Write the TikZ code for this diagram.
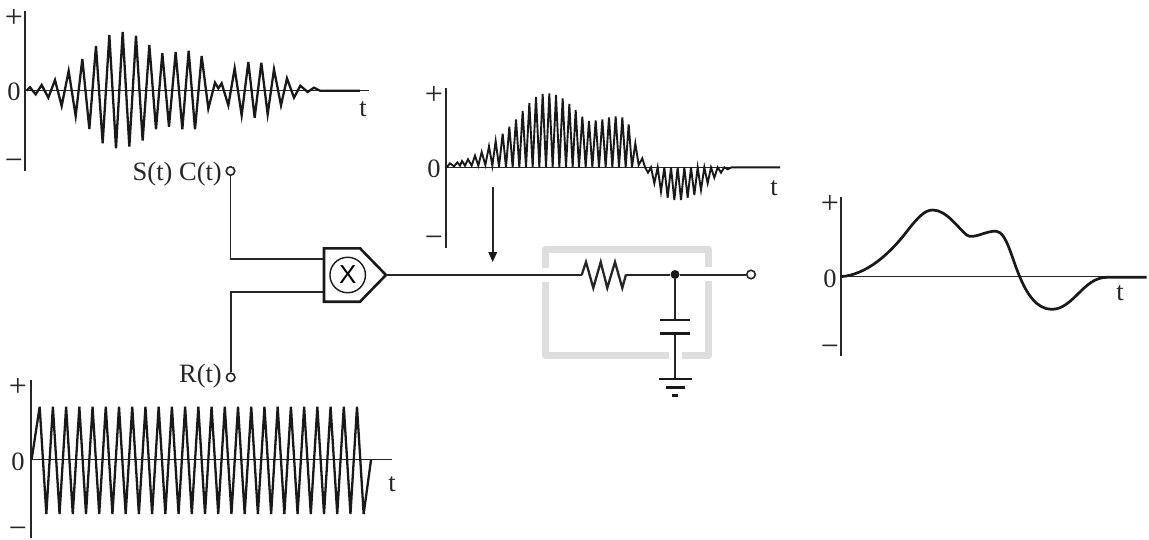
\documentclass[tikz,border=0pt]{standalone}
\usepackage{fontspec}
\setmainfont{Liberation Serif}
\newfontfamily\sanslabel{Liberation Sans}
\begin{document}
\begin{tikzpicture}[x=1pt,y=-1pt,
  wave/.style={line width=2.3pt,line join=miter,miter limit=8,color=black!90},
  axis/.style={line width=1.8pt,color=black!85},
  base/.style={line width=1.6pt,color=black!85},
  wire/.style={line width=1.8pt,color=black!85},
  plate/.style={line width=2.4pt,color=black!90},
  lab/.style={inner sep=0pt,font=\fontsize{26.5}{30}\selectfont,color=black!85},
  sgn/.style={inner sep=0pt,font=\fontsize{32}{34}\selectfont,color=black!85},
  pin/.style={circle,draw=black!85,fill=white,line width=1.6pt,minimum size=8.5pt,inner sep=0pt},
  dotn/.style={circle,fill=black!90,minimum size=9pt,inner sep=0pt},
  zoomed/.style={x=0.33333pt,y=-0.33333pt}]
\useasboundingbox (0,0) rectangle (1149,539);
% shielding box
\begin{scope}[line width=7.2pt,color=black!13,line cap=butt,line join=round]
\draw (545.7,268.3) -- (545.7,249.3) -- (708.7,249.3) -- (708.7,267.3);
\draw (708.7,281) -- (708.7,355.7) -- (682,355.7);
\draw (669,355.7) -- (545.7,355.7) -- (545.7,282.3);
\end{scope}
% waveform 1
\begin{scope}[shift={(0,0)},zoomed]
\draw[axis] (75,32) -- (75,512);
\draw[base] (75,272) -- (1108,272);
\draw[wave] (80,272)--(90,262)--(107,283)--(125,255)--(145,293)--(165,240)--(185,318)--(206,213)--(227,348)--(247,177)--(268,387)--(288,138)--(308,430)--(328,105)--(348,445)--(368,96)--(388,440)--(408,107)--(428,422)--(448,135)--(468,388)--(487,160)--(507,380)--(527,156)--(547,388)--(566,152)--(585,388)--(605,168)--(625,326)--(645,248)--(655,265)--(665,250)--(685,316)--(704,205)--(725,346)--(745,186)--(764,353)--(784,188)--(803,343)--(822,208)--(843,316)--(861,235)--(882,293)--(901,257)--(923,276)--(942,263)--(960,272)--(1080,272);
\end{scope}
\node[sgn] (pa) at (14,18) {+};
\node[sgn] (ma) at (14,165) {−};
\node[lab] (za) at (14,92) {0};
\node[lab] (ta) at (363,109) {t};
% waveform 2
\begin{scope}[shift={(410,75)},zoomed]
\draw[axis] (107,38) -- (107,518);
\draw[base] (107,277) -- (1110,277);
\draw[wave,line width=1.9pt] (110,277)--(120,265)--(132,274)--(142,262)--(150,272)--(156,258)--(165,272)--(174,253)--(185,272)--(195,242)--(205,272)--(215,231)--(226,270)--(237,214)--(247,272)--(257,198)--(267,275)--(278,176)--(288,277)--(298,155)--(308,277)--(318,133)--(328,277)--(338,108)--(348,277)--(358,84)--(368,277)--(378,66)--(388,277)--(398,57)--(408,277)--(418,55)--(428,277)--(438,60)--(448,277)--(458,70)--(468,277)--(478,87)--(488,277)--(497,105)--(507,277)--(517,125)--(527,277)--(537,138)--(547,277)--(557,136)--(567,277)--(577,133)--(587,277)--(597,127)--(607,277)--(617,124)--(627,277)--(637,127)--(647,277)--(656,148)--(666,277)--(676,205)--(686,270)--(697,250)--(705,277)--(714,293)--(723,277)--(733,325)--(743,277)--(753,350)--(763,277)--(773,368)--(783,277)--(793,375)--(803,277)--(813,375)--(823,277)--(833,368)--(843,277)--(853,360)--(863,277)--(873,345)--(883,277)--(893,325)--(903,277)--(913,308)--(923,277)--(933,293)--(943,277)--(953,283)--(965,277)--(1110,277);
\end{scope}
\node[sgn] (pb) at (434,95) {+};
\node[sgn] (mb) at (434,242) {−};
\node[lab] (zb) at (434,169) {0};
\node[lab] (tb) at (774,188) {t};
% waveform 3
\begin{scope}[shift={(0,360)},zoomed]
\draw[axis] (92,60) -- (92,535);
\draw[base] (92,298) -- (1175,298);
\draw[wave] (95,298)
  \foreach \k in {0,...,23} { -- ({119+39.67*\k},140) -- ({139+39.67*\k},462) }
  -- (1071,140) -- (1091,462) -- (1113,300);
\end{scope}
\node[sgn] (pc) at (18,387) {+};
\node[sgn] (mc) at (18,533) {−};
\node[lab] (zc) at (18,462) {0};
\node[lab] (tc) at (392,484) {t};
% waveform 4
\begin{scope}[shift={(810,190)},zoomed]
\draw[axis] (92,20) -- (92,498);
\draw[base] (92,260) -- (900,260);
\draw[line width=2.7pt,color=black!90] (92,260) .. controls (170,255) and (240,190) .. (290,125) .. controls (325,80) and (345,60) .. (368,60) .. controls (410,60) and (445,115) .. (470,135) .. controls (490,150) and (530,120) .. (560,124) .. controls (590,128) and (605,205) .. (630,262) .. controls (650,310) and (680,358) .. (725,358) .. controls (790,358) and (820,262) .. (890,262) -- (1010,262);
\end{scope}
\node[sgn] (pd) at (830,204) {+};
\node[sgn] (md) at (830,351) {−};
\node[lab] (zd) at (830,279) {0};
\node[lab] (td) at (1120,293) {t};
% inputs
\node[pin] (s) at (230.5,171) {};
\node[pin] (r) at (230.7,377.3) {};
\node[lab,anchor=east] (slab) at (222,174) {S(t) C(t)};
\node[lab,anchor=east] (rlab) at (222,376) {R(t)};
% multiplier
\draw[line width=2.6pt,color=black!90,fill=white,line join=miter] (324,248.3) coordinate (mnw) -- (360,248.3) -- (386,275) coordinate (mtip) -- (360,301.7) -- (324,301.7) coordinate (msw) -- cycle;
\coordinate (ma1) at (322.5,259.3);
\coordinate (ma2) at (323,291.7);
\node[circle,draw=black!90,line width=1.4pt,minimum size=35.5pt,inner sep=0pt,font=\sanslabel\fontsize{26}{28}\selectfont] (mx) at (347.7,275) {X};
\draw[wire] (s) -- (s |- ma1) -- (ma1);
\draw[wire] (r) -- (r |- ma2) -- (ma2);
% filter
\coordinate (ra) at (581.7,275);
\coordinate (rb) at (626,274.5);
\node[dotn] (d) at (675,274.5) {};
\node[pin] (o) at (751,274.5) {};
\draw[wire] (mtip) -- (ra);
\draw[wire,line width=2.3pt,line join=miter] (ra) -- (586,262) -- (593.3,288) -- (600.7,262) -- (607.3,288) -- (615,262) -- (622.3,288) -- (rb);
\draw[wire,line width=2pt] (rb) -- (d) -- (o);
\coordinate (c1) at (675,320);
\coordinate (c2) at (675,333.3);
\coordinate (g1) at (675,379);
\draw[wire] (d) -- (c1);
\draw[wire] (c2) -- (g1);
\draw[plate] (660,320) -- (690,320);
\draw[plate] (660,333.3) -- (690,333.3);
\draw[plate] (658.7,379) -- (691.7,379);
\draw[plate] (665.7,387.3) -- (685,387.3);
\draw[plate] (672,395.3) -- (678.3,395.3);
% arrow
\coordinate (aa) at (492.7,186.7);
\coordinate (ab) at (492.7,262);
\draw[wire] (aa) -- (492.7,252);
\fill[black!90] (ab) -- (488.2,252) -- (497.2,252) -- cycle;
\end{tikzpicture}
\end{document}
